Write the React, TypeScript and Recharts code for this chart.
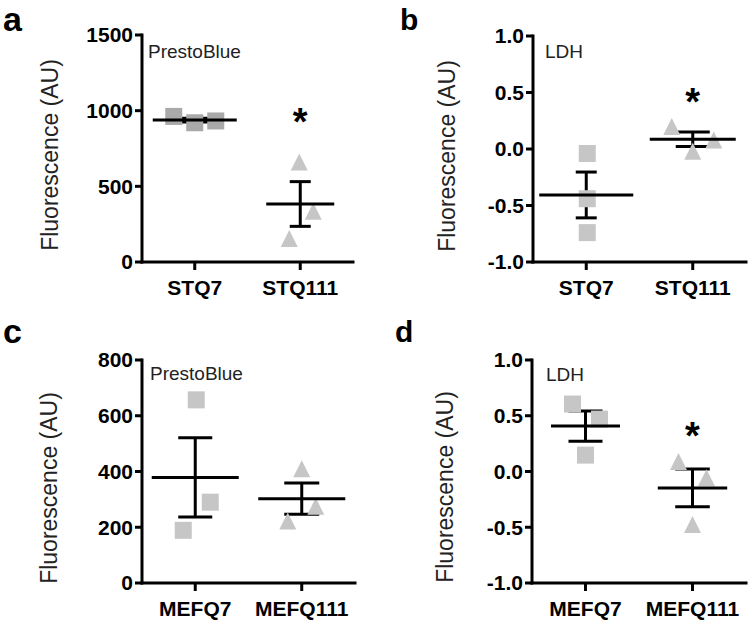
import React from 'react';
import { ScatterChart, Scatter, XAxis, YAxis, ErrorBar } from 'recharts';

const FONT = '"Liberation Sans", Arial, Helvetica, sans-serif';

// ---------- data ----------
const categoriesST = ['STQ7', 'STQ111'];
const categoriesMEF = ['MEFQ7', 'MEFQ111'];

const prestoST7 = [962, 920, 932];
const prestoST111 = [660, 335, 155];
const ldhST7 = [-0.04, -0.44, -0.74];
const ldhST111 = [0.2, -0.02, 0.08];
const prestoMEF7 = [657, 290, 189];
const prestoMEF111 = [410, 275, 222];
const ldhMEF7 = [0.605, 0.47, 0.147];
const ldhMEF111 = [0.09, -0.056, -0.475];

const ticksPrestoST = [0, 500, 1000, 1500];
const ticksPrestoMEF = [0, 200, 400, 600, 800];
const ticksLDH = [-1, -0.5, 0, 0.5, 1];

// height (in value units) of the significance asterisk per category, null = none
const sigPrestoST = [null, 978];
const sigLdhST = [null, 0.49];
const sigPrestoMEF = [null, null];
const sigLdhMEF = [null, 0.39];

const yTitle = 'Fluorescence (AU)';

// ---------- stats ----------
const mean = (a: number[]) => a.reduce((s, v) => s + v, 0) / a.length;
const sem = (a: number[]) => {
  const m = mean(a);
  const sd = Math.sqrt(a.reduce((s, v) => s + (v - m) * (v - m), 0) / (a.length - 1));
  return sd / Math.sqrt(a.length);
};

const fmtInt = (v: number) => String(v);
const fmt1 = (v: number) => v.toFixed(1);

// ---------- layout ----------
const panels = [
  {
    letter: 'a', letterSize: 34, assay: 'PrestoBlue', cats: categoriesST, groups: [prestoST7, prestoST111], sig: sigPrestoST,
    domain: [0, 1500], ticks: ticksPrestoST, fmt: fmtInt,
    box: { left: 0, top: 0, width: 375, height: 310 },
    plot: { left: 142, right: 353, top: 35, bottom: 262 },
    jitter: [[-21, 0, 21], [-1, 13, -11]], meanHalf: [42, 34], capHalf: [17.5, 10.5],
    colors: ['#a9a9a9', '#c6c6c6'],
    title: { x: 50, y: 155 }, letterPos: { x: 3, y: 31 }, assayPos: { x: 148, y: 58 },
  },
  {
    letter: 'b', letterSize: 30, assay: 'LDH', cats: categoriesST, groups: [ldhST7, ldhST111], sig: sigLdhST,
    domain: [-1, 1], ticks: ticksLDH, fmt: fmt1,
    box: { left: 375, top: 0, width: 375, height: 310 },
    plot: { left: 158, right: 371, top: 36, bottom: 262 },
    jitter: [[1, 1, 1], [-21, 0, 21]], meanHalf: [47, 43], capHalf: [10.5, 17],
    colors: ['#c6c6c6', '#c6c6c6'],
    title: { x: 72, y: 156 }, letterPos: { x: 400, y: 30 }, assayPos: { x: 545, y: 58 },
  },
  {
    letter: 'c', letterSize: 34, assay: 'PrestoBlue', cats: categoriesMEF, groups: [prestoMEF7, prestoMEF111], sig: sigPrestoMEF,
    domain: [0, 800], ticks: ticksPrestoMEF, fmt: fmtInt,
    box: { left: 0, top: 310, width: 375, height: 314 },
    plot: { left: 142, right: 355, top: 50, bottom: 273 },
    jitter: [[1, 15, -12], [0, 14, -14]], meanHalf: [43.5, 43.5], capHalf: [17, 17.5],
    colors: ['#c6c6c6', '#c6c6c6'],
    title: { x: 49, y: 178 }, letterPos: { x: 3, y: 343 }, assayPos: { x: 150, y: 380 },
  },
  {
    letter: 'd', letterSize: 30, assay: 'LDH', cats: categoriesMEF, groups: [ldhMEF7, ldhMEF111], sig: sigLdhMEF,
    domain: [-1, 1], ticks: ticksLDH, fmt: fmt1,
    box: { left: 375, top: 310, width: 375, height: 314 },
    plot: { left: 157, right: 371, top: 50, bottom: 273 },
    jitter: [[-13, 14, 0], [-14, 14, 0]], meanHalf: [34.5, 34.7], capHalf: [17, 17.3],
    colors: ['#c6c6c6', '#c6c6c6'],
    title: { x: 70, y: 177 }, letterPos: { x: 395, y: 342 }, assayPos: { x: 546, y: 381 },
  },
];

const AxisTitle = ({ tx, ty }: any) => (
  <text
    x={tx}
    y={ty}
    transform={`rotate(-90 ${tx} ${ty})`}
    textAnchor="middle"
    dominantBaseline="central"
    fontSize={23}
    fontFamily={FONT}
    fill="#222"
  >
    {yTitle}
  </text>
);

const Marker = ({ cx, cy, kind, color, dx }: any) => {
  const x = cx + dx;
  if (kind === 'square') {
    return <rect x={x - 8.5} y={cy - 8.5} width={17} height={17} fill={color} />;
  }
  return <path d={`M${x},${cy - 8.5}L${x + 8.5},${cy + 8.5}L${x - 8.5},${cy + 8.5}Z`} fill={color} />;
};

function Panel({ p }: any) {
  const { box, plot } = p;
  const pts = p.groups.map((vals: number[], g: number) => vals.map((v, i) => ({ x: g + 1, y: v, g, i })));
  const means = p.groups.map((vals: number[], g: number) => [{ x: g + 1, y: mean(vals), sem: sem(vals), g }]);
  const stars = p.sig
    .map((s: number | null, g: number) => (s == null ? null : { x: g + 1, y: s }))
    .filter(Boolean);
  const kinds = ['square', 'triangle'];
  const tickStyle = { fill: '#000', fontSize: 21, fontWeight: 700, fontFamily: FONT };
  return (
    <div style={{ position: 'absolute', left: box.left, top: box.top, width: box.width, height: box.height }}>
      <ScatterChart
        width={box.width}
        height={box.height}
        margin={{ top: plot.top, right: box.width - plot.right, bottom: 0, left: 0 }}
        style={{ fontFamily: FONT }}
      >
        <XAxis
          type="number"
          dataKey="x"
          domain={[0.5, 2.5]}
          ticks={[1, 2]}
          interval={0}
          allowDataOverflow
          tickFormatter={(v: number) => p.cats[v - 1]}
          height={box.height - plot.bottom}
          tickSize={8}
          tickMargin={10}
          axisLine={{ stroke: '#000', strokeWidth: 3, strokeLinecap: 'square' }}
          tickLine={{ stroke: '#000', strokeWidth: 3 }}
          tick={tickStyle}
        />
        <YAxis
          type="number"
          dataKey="y"
          domain={p.domain}
          ticks={p.ticks}
          interval={0}
          allowDataOverflow
          tickFormatter={p.fmt}
          width={plot.left}
          tickSize={7}
          tickMargin={2}
          axisLine={{ stroke: '#000', strokeWidth: 3, strokeLinecap: 'square' }}
          tickLine={{ stroke: '#000', strokeWidth: 3 }}
          tick={tickStyle}
          label={<AxisTitle tx={p.title.x} ty={p.title.y} />}
        />
        {pts.map((data: any[], g: number) => (
          <Scatter
            key={'pts' + g}
            data={data}
            isAnimationActive={false}
            shape={(s: any) => (
              <Marker
                cx={s.cx}
                cy={s.cy}
                kind={kinds[g]}
                color={p.colors[g]}
                dx={p.jitter[g][s.payload.i]}
              />
            )}
          />
        ))}
        {means.map((data: any[], g: number) => (
          <Scatter
            key={'mean' + g}
            data={data}
            isAnimationActive={false}
            shape={(s: any) => (
              <line
                x1={s.cx - p.meanHalf[g]}
                x2={s.cx + p.meanHalf[g]}
                y1={s.cy}
                y2={s.cy}
                stroke="#000"
                strokeWidth={3}
              />
            )}
          >
            <ErrorBar
              dataKey="sem"
              direction="y"
              width={p.capHalf[g]}
              stroke="#000"
              strokeWidth={3}
              isAnimationActive={false}
            />
          </Scatter>
        ))}
        {stars.length > 0 && (
          <Scatter
            data={stars}
            isAnimationActive={false}
            shape={(s: any) => (
              <text
                x={s.cx}
                y={s.cy + 21}
                textAnchor="middle"
                fontSize={38}
                fontWeight={700}
                fontFamily={FONT}
                fill="#000"
              >
                *
              </text>
            )}
          />
        )}
      </ScatterChart>
    </div>
  );
}

export default function App() {
  return (
    <div style={{ position: 'absolute', left: 0, top: 0, width: 750, height: 624, background: '#fff', fontFamily: FONT }}>
      {panels.map((p) => (
        <Panel key={p.letter} p={p} />
      ))}
      <svg
        width={750}
        height={624}
        style={{ position: 'absolute', left: 0, top: 0, pointerEvents: 'none' }}
      >
        {panels.map((p) => (
          <g key={'ov' + p.letter}>
            <text x={p.letterPos.x} y={p.letterPos.y} fontSize={p.letterSize} fontWeight={700} fontFamily={FONT} fill="#000">
              {p.letter}
            </text>
            <text x={p.assayPos.x} y={p.assayPos.y} fontSize={19} fontFamily={FONT} fill="#222">
              {p.assay}
            </text>
          </g>
        ))}
      </svg>
    </div>
  );
}
